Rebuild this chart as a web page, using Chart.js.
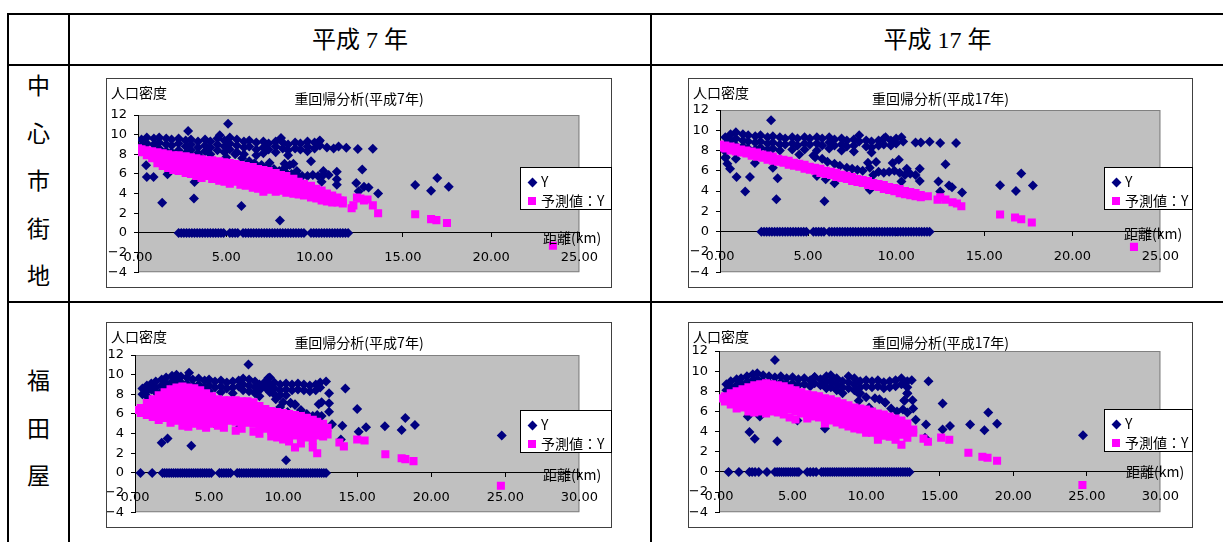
<!DOCTYPE html>
<html lang="ja">
<head>
<meta charset="utf-8">
<title>重回帰分析</title>
<script src="https://cdn.jsdelivr.net/npm/chart.js@4.4.1/dist/chart.umd.min.js"></script>
<style>
    html, body { margin: 0; padding: 0; background: #fff; }
    #page { position: relative; width: 1223px; height: 542px; overflow: hidden; font-family: "Noto Sans CJK JP", sans-serif; color: #000; }
    .hl, .vl { position: absolute; background: #000; }
    .hl { height: 2px; }
    .vl { width: 2px; }
    .head { position: absolute; top: 22px; height: 36px; line-height: 36px; text-align: center; font-family: "Liberation Serif", "Noto Sans CJK JP", serif; font-size: 24px; }
    .side { position: absolute; left: 9px; width: 59px; text-align: center; font-size: 23px; line-height: 47.5px; }
    .box { position: absolute; border: 1px solid #404040; background: #fff; }
    .box canvas { position: absolute; left: 0; top: 0; }
    .lbl { position: absolute; white-space: nowrap; font-size: 14px; line-height: 16px; }
    .ttl { left: 0; right: 0; text-align: center; }
    .legend { position: absolute; border: 1px solid #000; background: #fff; font-size: 14px; line-height: 16px; box-sizing: border-box; }
    .legend div { position: absolute; left: 7px; white-space: nowrap; }
    .mk { display: inline-block; vertical-align: middle; margin-right: 5px; position: relative; top: -1px; }
    .mk.dia { width: 7px; height: 7px; background: #000080; transform: rotate(45deg); margin-left: 1px; }
    .mk.sq { width: 8px; height: 8px; background: #ff00ff; }
</style>
</head>
<body>
<div id="page"></div>
<script>
// 見出し
const yearLabels = ['平成 7 年', '平成 17 年']
const areaLabels = ['中心市街地', '福田屋']
const chartTitles = ['重回帰分析(平成7年)', '重回帰分析(平成17年)']
const seriesNames = ['Y', '予測値：Y']
const yAxisName = '人口密度'
const xAxisName = '距離(km)'
const yTicks = [-4, -2, 0, 2, 4, 6, 8, 10, 12]
const xMaxChushin = 25
const xMaxFukudaya = 30

// ---------------- 中心市街地 平成7年
const chuY7 = [
    [0.2,9.5],[0.2,8.9],[0.2,8.3],[0.5,9.7],[0.5,9.1],[0.5,8.5],[0.9,9.6],[0.9,9.0],[0.9,8.4],
    [1.2,9.7],[1.2,9.2],[1.2,8.6],[1.2,8.0],[1.6,9.6],[1.6,9.0],[1.6,8.3],[1.9,9.5],[1.9,8.9],[1.9,8.2],
    [2.3,9.6],[2.3,9.1],[2.3,8.4],[2.3,7.9],[2.7,9.4],[2.7,8.8],[2.7,8.1],[3.0,9.5],[3.0,9.0],[3.0,8.4],[3.0,7.8],
    [3.4,9.3],[3.4,8.7],[3.4,8.1],[3.8,9.5],[3.8,8.9],[3.8,8.3],[4.1,9.3],[4.1,8.7],[4.1,8.0],
    [4.5,9.6],[4.5,9.0],[4.5,8.4],[4.9,9.4],[4.9,8.8],[4.9,8.2],[5.2,9.7],[5.2,9.1],[5.2,8.5],
    [5.6,9.5],[5.6,8.9],[5.6,8.2],[6.0,9.3],[6.0,8.7],[6.0,8.0],[6.3,9.4],[6.3,8.8],
    [6.7,9.2],[6.7,8.5],[6.7,7.9],[7.1,9.3],[7.1,8.7],[7.1,8.1],[7.4,9.1],[7.4,8.5],
    [7.8,9.3],[7.8,8.8],[7.8,8.2],[8.2,9.2],[8.2,8.6],[8.5,9.0],[8.5,8.4],[8.5,7.9],[8.9,9.2],[8.9,8.6],
    [9.2,9.1],[9.2,8.5],[9.6,9.3],[9.6,8.8],[9.6,8.3],[10.0,9.2],[10.0,8.6],[10.3,9.4],[10.3,8.9],[10.7,8.7],
    [5.5,8.0],[5.9,7.6],[6.3,7.3],[6.6,7.1],[7.0,6.9],[7.3,6.7],[7.7,6.5],[8.0,6.3],[8.3,6.6],[8.4,6.1],
    [8.6,6.9],[8.7,6.0],[9.0,5.9],[9.0,6.3],[9.3,5.8],[9.6,5.8],[9.9,5.9],[10.2,5.8],[10.5,5.9],[10.8,5.9],
    [3.6,7.6],[4.2,7.4],[5.0,7.7],
    [5.1,11.1],[2.84,10.36],[4.63,9.93],[8.1,9.67],[0.46,6.89],[0.5,5.7],[0.88,5.7],[1.67,5.96],[1.37,3.08],
    [3.2,5.17],[3.17,3.51],[5.86,2.75],[8.04,1.26],[11.08,8.6],[11.36,8.8],[11.8,8.67],[12.45,8.54],[13.3,8.57],
    [12.36,5.07],[12.7,6.46],[12.5,4.24],[12.8,4.7],[13.06,4.62],[13.6,4.0],[11.26,6.22],[11.26,4.9],[11.26,5.46],
    [10.5,6.3],[10.4,5.2],[9.8,7.3],[10.26,9.3],[8.3,7.05],[8.8,7.05],[7.45,7.15],[6.87,6.6],
    [15.7,4.87],[16.6,4.3],[16.95,5.6],[17.6,4.7]
]
const chuZero7 = [2.3,2.45,2.6,2.75,2.9,3.05,3.2,3.35,3.5,3.65,3.8,3.95,4.1,4.25,4.4,4.55,4.7,4.85,5.2,5.35,5.5,5.65,
    5.95,6.1,6.25,6.4,6.55,6.7,6.85,7.0,7.15,7.3,7.45,7.6,7.75,7.9,8.05,8.2,8.35,8.5,8.65,8.8,8.95,9.1,9.25,9.4,
    9.8,9.95,10.1,10.25,10.4,10.55,10.7,10.85,11.0,11.15,11.3,11.45,11.6,11.75,11.9]
const chuPred7 = [
    [0.0,8.6],[0.2,8.5],[0.2,8.2],[0.5,8.4],[0.5,7.9],[0.8,8.3],[0.8,7.6],[1.1,8.2],[1.1,7.6],[1.1,7.1],
    [1.4,8.1],[1.4,7.5],[1.4,6.8],[1.7,8.0],[1.7,7.3],[1.7,6.6],[2.0,7.9],[2.0,7.2],[2.0,6.4],
    [2.3,7.9],[2.3,7.1],[2.3,6.3],[2.7,7.8],[2.7,7.0],[2.7,6.1],[3.0,7.7],[3.0,6.9],[3.0,6.0],
    [3.3,7.6],[3.3,6.8],[3.3,5.8],[3.6,7.5],[3.6,6.7],[3.6,5.6],[3.9,7.4],[3.9,6.6],[3.9,5.8],
    [4.2,7.4],[4.2,6.5],[4.2,5.5],[4.6,7.3],[4.6,6.4],[4.6,5.3],[4.9,7.2],[4.9,6.2],[4.9,5.2],
    [5.2,7.1],[5.2,6.1],[5.2,5.0],[5.5,7.0],[5.5,6.0],[5.5,5.2],[5.8,6.9],[5.8,5.9],[5.8,4.9],
    [6.1,6.8],[6.1,5.8],[6.1,4.8],[6.5,6.7],[6.5,5.6],[6.5,4.6],[6.8,6.5],[6.8,5.5],[6.8,4.5],
    [7.1,6.4],[7.1,5.3],[7.1,4.2],[7.4,6.3],[7.4,5.3],[7.4,4.4],[7.8,6.1],[7.8,5.2],[7.8,4.2],
    [8.1,5.9],[8.1,5.0],[8.1,4.3],[8.4,5.8],[8.4,4.8],[8.4,4.1],[8.8,5.5],[8.8,4.7],[8.8,4.0],
    [9.1,5.2],[9.1,4.5],[9.1,3.9],[9.4,5.0],[9.4,4.4],[9.4,3.8],[9.8,4.8],[9.8,4.2],[9.8,3.6],
    [10.1,4.5],[10.1,4.0],[10.1,3.5],[10.4,4.3],[10.4,3.8],[10.4,3.3],[10.7,4.0],[10.7,3.6],[10.7,3.2],
    [11.0,3.8],[11.0,3.4],[11.0,3.1],[11.3,3.6],[11.3,3.1],[11.6,3.3],[11.6,3.0],
    [1.25,7.85],[1.55,7.15],[1.85,7.6],[1.85,6.9],[2.15,7.5],[2.15,6.8],[2.5,7.4],[2.5,6.6],[2.85,7.3],[2.85,6.5],
    [3.15,7.2],[3.15,6.4],[3.45,7.1],[3.45,6.2],[3.75,7.0],[3.75,6.1],[4.05,6.9],[4.05,6.0],[4.4,6.8],[4.4,5.9],
    [4.75,6.7],[4.75,5.7],[5.05,6.6],[5.05,5.6],[5.35,6.5],[5.35,5.5],[5.65,6.4],[5.65,5.4],[5.95,6.3],[5.95,5.3],
    [6.3,6.2],[6.3,5.1],[6.65,6.0],[6.65,5.0],[6.95,5.9],[6.95,4.8],[7.25,5.8],[7.25,4.8],[7.6,5.6],[7.6,4.7],
    [7.95,5.5],[7.95,4.6],[8.25,5.3],[8.25,4.5],[8.6,5.1],[8.6,4.4],[8.95,4.9],[8.95,4.2],[9.25,4.8],[9.25,4.1],
    [9.6,4.5],[9.95,4.3],[10.25,4.1],[10.55,3.9],[10.85,3.7],[11.15,3.5],[11.45,3.3],
    [12.1,2.5],[12.2,2.8],[12.4,3.6],[12.6,3.5],[12.8,3.3],[13.0,3.4],[13.3,2.8],[13.6,2.0],
    [15.7,1.9],[16.6,1.4],[16.9,1.3],[17.5,1.0],[23.5,-1.3]
]

// ---------------- 中心市街地 平成17年
const chuY17 = [
    [0.3,9.3],[0.3,8.6],[0.3,7.9],[0.3,7.3],[0.6,9.6],[0.6,9.0],[0.6,8.4],[0.9,9.8],[0.9,9.2],[0.9,8.5],[0.9,7.8],
    [1.3,9.6],[1.3,9.0],[1.3,8.4],[1.6,9.5],[1.6,8.9],[1.6,8.2],[2.0,9.4],[2.0,8.8],[2.0,8.1],
    [2.3,9.5],[2.3,8.9],[2.3,8.3],[2.7,9.3],[2.7,8.7],[2.7,8.1],[3.0,9.4],[3.0,8.8],[3.0,8.2],
    [3.4,9.3],[3.4,8.6],[3.4,8.0],[3.7,9.2],[3.7,8.6],[4.1,9.3],[4.1,8.7],[4.1,8.1],[4.4,9.2],[4.4,8.5],
    [4.8,9.3],[4.8,8.7],[4.8,8.1],[5.1,9.2],[5.1,8.6],[5.5,9.3],[5.5,8.7],[5.5,8.0],[5.8,9.2],[5.8,8.5],
    [6.2,9.3],[6.2,8.8],[6.2,8.2],[6.5,9.1],[6.5,8.5],[6.9,9.2],[6.9,8.6],[6.9,8.0],[7.2,9.0],[7.2,8.4],
    [7.6,9.1],[7.6,8.5],[7.6,7.9],[7.9,9.5],[7.9,8.9],[8.3,9.0],[8.3,8.4],[8.6,8.9],[8.6,8.3],[8.6,7.8],
    [9.0,9.0],[9.0,8.5],[9.3,9.2],[9.3,8.6],[9.7,9.0],[9.7,8.5],[10.0,9.2],[10.0,8.7],[10.4,8.9],
    [5.3,7.5],[5.8,7.2],[6.1,6.9],[6.5,6.7],[6.8,6.5],[7.2,6.3],[7.5,6.2],[7.8,6.1],[8.1,6.0],[8.4,6.8],
    [8.5,6.3],[8.7,5.6],[9.0,5.9],[9.3,5.8],[9.6,5.9],[9.9,6.0],[10.2,5.8],[10.5,5.6],[10.8,5.7],[11.1,5.6],
    [10.6,6.2],[4.5,7.6],
    [2.9,11.0],[0.33,7.35],[0.42,6.7],[0.57,6.2],[0.94,5.4],[0.9,7.2],[1.43,3.97],[1.7,5.4],[1.98,6.77],
    [3.0,6.3],[3.27,5.26],[3.2,3.2],[5.93,3.0],[6.0,5.16],[5.5,5.5],[6.5,4.77],[5.4,7.35],[8.5,4.13],
    [8.86,6.87],[9.8,6.77],[10.15,7.1],[10.3,4.94],[11.34,6.2],[11.34,5.0],[12.4,4.94],[12.5,3.97],
    [12.8,6.65],[13.0,4.55],[13.17,4.39],[12.5,8.74],[13.4,8.74],[13.74,3.87],[15.9,4.58],[16.8,4.0],
    [17.1,5.74],[17.76,4.55],[11.1,8.8],[11.4,8.8],[11.9,8.87],[10.3,9.3],[9.4,9.3]
]
const chuZero17 = [2.35,2.5,2.65,2.8,2.95,3.1,3.25,3.4,3.55,3.7,3.85,4.0,4.15,4.3,4.45,4.6,4.75,4.9,5.3,5.45,5.6,
    5.75,5.9,6.2,6.35,6.5,6.65,6.8,6.95,7.1,7.25,7.4,7.55,7.7,7.85,8.0,8.15,8.3,8.45,8.6,8.75,8.9,9.05,9.2,
    9.35,9.5,9.65,9.8,9.95,10.1,10.25,10.4,10.55,10.7,10.85,11.0,11.15,11.3,11.45,11.6,11.75,11.9]
const chuPred17 = [
    [0.0,8.6],[0.0,8.3],[0.3,8.5],[0.3,8.2],[0.6,8.4],[0.6,8.0],[0.9,8.3],[0.9,7.9],[1.2,8.1],[1.2,7.8],
    [1.5,8.0],[1.5,7.7],[1.8,7.9],[1.8,7.5],[2.1,7.8],[2.1,7.4],[2.4,7.6],[2.4,7.3],[2.7,7.5],[2.7,7.1],
    [3.0,7.4],[3.0,7.0],[3.3,7.2],[3.3,6.9],[3.6,7.1],[3.6,6.8],[3.9,7.0],[3.9,6.6],[4.2,6.8],[4.2,6.5],
    [4.5,6.7],[4.5,6.4],[4.8,6.6],[4.8,6.2],[5.1,6.4],[5.1,6.1],[5.4,6.3],[5.4,6.0],[5.7,6.2],[5.7,5.8],
    [6.0,6.0],[6.0,5.7],[6.3,5.9],[6.3,5.6],[6.6,5.8],[6.6,5.4],[6.9,5.6],[6.9,5.3],[7.2,5.5],[7.2,5.2],
    [7.5,5.4],[7.5,5.0],[7.8,5.2],[7.8,4.9],[8.1,5.1],[8.1,4.8],[8.4,5.0],[8.4,4.6],[8.7,4.8],[8.7,4.5],
    [9.0,4.7],[9.0,4.4],[9.3,4.6],[9.3,4.2],[9.6,4.4],[9.6,4.1],[9.9,4.3],[9.9,4.0],[10.2,4.2],[10.2,3.8],
    [10.5,4.0],[10.5,3.7],[10.8,3.9],[10.8,3.6],[11.1,3.8],[11.1,3.5],[11.4,3.6],[11.4,3.4],[11.8,3.5],
    [12.35,3.16],[12.5,3.4],[12.8,3.16],[13.2,2.9],[13.45,2.77],[13.7,2.5],
    [15.9,1.7],[16.75,1.39],[17.1,1.23],[17.7,0.9],[23.5,-1.5]
]

// ---------------- 福田屋 平成7年
const fukY7 = [
    [0.5,8.6],[0.5,8.0],[0.8,8.9],[0.8,8.3],[0.8,7.8],[1.1,9.1],[1.1,8.5],[1.4,9.3],[1.4,8.7],[1.4,8.2],
    [1.8,9.5],[1.8,8.9],[1.8,8.3],[2.1,9.7],[2.1,9.1],[2.1,8.5],[2.5,9.9],[2.5,9.3],[2.5,8.7],
    [2.8,10.0],[2.8,9.4],[2.8,8.8],[3.1,9.8],[3.1,9.2],[3.1,8.6],[3.5,9.7],[3.5,9.1],[3.9,9.5],[3.9,8.9],
    [4.3,9.6],[4.3,9.0],[4.3,8.4],[4.7,9.4],[4.7,8.8],[5.0,9.5],[5.0,8.9],[5.0,8.3],[5.4,9.3],[5.4,8.7],
    [5.8,9.4],[5.8,8.8],[5.8,8.2],[6.2,9.2],[6.2,8.6],[6.6,9.3],[6.6,8.7],[6.6,8.1],[7.0,9.4],[7.0,8.8],
    [7.3,9.6],[7.3,9.0],[7.3,8.4],[7.7,9.5],[7.7,8.9],[7.7,8.3],[8.1,9.3],[8.1,8.7],[8.1,8.1],
    [8.4,9.0],[8.4,8.4],[8.4,7.8],[8.8,9.3],[8.8,8.7],[9.1,9.7],[9.1,8.9],[9.1,8.2],[9.4,9.2],[9.4,8.6],[9.4,8.0],
    [9.8,9.0],[9.8,8.4],[9.8,7.9],[10.2,9.1],[10.2,8.5],[10.2,7.9],[10.6,9.0],[10.6,8.4],[11.0,9.1],[11.0,8.5],
    [11.4,9.0],[11.4,8.4],[11.8,8.9],[11.8,8.3],[12.2,9.0],[12.2,8.4],[12.5,9.2],[12.5,8.7],[12.9,9.3],
    [9.5,7.5],[10.0,7.2],[10.5,7.1],[10.8,6.9],[11.2,6.4],[11.6,6.0],[12.0,5.8],[12.3,5.9],[12.6,5.8],
    [9.8,6.7],[10.3,6.2],[12.4,7.0],[5.9,6.8],[6.2,6.3],
    [7.66,11.04],[3.65,10.2],[9.0,9.67],[9.0,9.1],[1.8,3.08],[2.2,3.5],[3.8,2.76],[10.2,1.3],[13.1,8.1],
    [13.1,7.08],[13.1,6.23],[12.6,7.2],[10.5,7.14],[10.8,6.98],[13.3,4.94],[14.0,4.8],[14.2,8.6],[15.0,6.5],
    [15.1,4.2],[15.6,4.64],[13.9,3.4],[16.87,4.74],[18.0,4.37],[18.25,5.6],[18.9,4.87],[24.76,3.8],
    [5.3,5.1],[7.1,4.7],[12.2,4.4]
]
const fukZero7 = [0.37,1.16,1.86,2.0,2.15,2.3,2.45,2.6,2.75,2.9,3.05,3.2,3.35,3.5,3.65,3.8,3.95,4.1,4.25,4.4,4.55,
    4.7,4.85,5.0,5.15,5.7,5.85,6.0,6.15,6.3,6.45,6.9,7.05,7.2,7.35,7.5,7.65,7.8,7.95,8.1,8.25,8.4,8.55,8.7,8.85,
    9.0,9.15,9.3,9.45,9.6,9.75,9.9,10.05,10.2,10.35,10.5,10.65,10.8,10.95,11.1,11.25,11.4,11.55,11.7,11.85,
    12.0,12.15,12.3,12.45,12.6,12.75,12.9]
const fukPred7 = [
    [0.1,6.4],[0.4,6.6],[0.4,6.1],[0.8,7.1],[0.8,6.5],[0.8,5.9],[1.2,7.5],[1.2,6.9],[1.2,6.2],[1.2,5.7],
    [1.6,7.9],[1.6,7.3],[1.6,6.6],[1.6,5.9],[1.6,5.4],[2.0,8.2],[2.0,7.6],[2.0,6.9],[2.0,6.3],[2.0,5.6],
    [2.4,8.5],[2.4,7.9],[2.4,7.2],[2.4,6.5],[2.4,5.8],[2.4,5.1],[2.8,8.7],[2.8,8.1],[2.8,7.4],[2.8,6.7],[2.8,6.0],[2.8,5.3],
    [3.2,8.8],[3.2,8.2],[3.2,7.5],[3.2,6.8],[3.2,6.1],[3.2,5.4],[3.2,4.8],[3.6,8.7],[3.6,8.1],[3.6,7.4],[3.6,6.7],[3.6,6.0],[3.6,5.2],[3.6,4.7],
    [4.0,8.6],[4.0,7.9],[4.0,7.2],[4.0,6.5],[4.0,5.8],[4.0,5.0],[4.4,8.4],[4.4,7.7],[4.4,7.0],[4.4,6.3],[4.4,5.6],[4.4,4.8],
    [4.8,8.1],[4.8,7.4],[4.8,6.7],[4.8,6.0],[4.8,5.3],[4.8,4.6],[5.2,7.8],[5.2,7.1],[5.2,6.4],[5.2,5.7],[5.2,5.0],
    [5.6,7.5],[5.6,6.8],[5.6,6.1],[5.6,5.4],[5.6,4.8],[6.0,7.4],[6.0,6.7],[6.0,6.0],[6.0,5.3],[6.0,4.6],
    [6.4,7.4],[6.4,6.7],[6.4,6.0],[6.4,5.3],[6.8,7.4],[6.8,6.7],[6.8,6.0],[6.8,5.2],[6.8,4.3],
    [7.2,7.3],[7.2,6.6],[7.2,5.9],[7.2,5.2],[7.2,4.5],[7.6,7.3],[7.6,6.6],[7.6,5.9],[7.6,5.1],
    [8.0,7.2],[8.0,6.5],[8.0,5.8],[8.0,5.0],[8.0,4.2],[8.4,6.8],[8.4,6.1],[8.4,5.4],[8.4,4.7],[8.4,4.0],
    [8.8,6.5],[8.8,5.9],[8.8,5.2],[8.8,4.5],[9.2,6.3],[9.2,5.7],[9.2,5.0],[9.2,4.3],[9.2,3.7],
    [9.6,6.2],[9.6,5.6],[9.6,4.9],[9.6,4.2],[9.6,3.6],[10.0,6.1],[10.0,5.4],[10.0,4.7],[10.0,4.0],[10.0,3.4],
    [10.4,6.0],[10.4,5.3],[10.4,4.6],[10.4,3.9],[10.4,3.2],[10.8,5.9],[10.8,5.2],[10.8,4.5],[10.8,3.8],[10.8,2.6],
    [11.2,5.8],[11.2,5.1],[11.2,4.4],[11.2,3.7],[11.2,3.0],[11.6,5.6],[11.6,4.9],[11.6,4.2],[11.6,3.6],
    [12.0,5.4],[12.0,4.7],[12.0,4.0],[12.0,3.3],[12.0,2.6],[12.3,5.2],[12.3,4.5],[12.3,3.8],[12.3,2.0],
    [12.7,5.0],[12.7,4.3],[12.7,3.7],[13.0,4.6],[13.0,3.9],
    [13.8,3.1],[14.1,2.7],[15.0,3.4],[15.5,3.3],[16.9,1.9],[18.0,1.5],[18.25,1.4],[18.8,1.2],[24.7,-1.3]
]

// ---------------- 福田屋 平成17年
const fukY17 = [
    [0.5,8.7],[0.5,8.1],[0.8,9.0],[0.8,8.4],[1.2,9.2],[1.2,8.6],[1.2,8.0],[1.5,9.3],[1.5,8.7],
    [1.9,9.5],[1.9,8.9],[1.9,8.3],[2.3,9.7],[2.3,9.1],[2.3,8.5],[2.6,9.8],[2.6,9.2],[2.6,8.6],
    [3.0,9.6],[3.0,9.0],[3.4,9.5],[3.4,8.9],[3.8,9.4],[3.8,8.8],[4.2,9.5],[4.2,8.9],[4.2,8.3],
    [4.6,9.3],[4.6,8.7],[5.0,9.4],[5.0,8.8],[5.4,9.2],[5.4,8.6],[5.8,9.3],[5.8,8.7],[6.2,9.1],[6.2,8.5],
    [6.5,9.4],[6.5,8.8],[6.9,9.2],[6.9,8.6],[7.3,9.5],[7.3,8.9],[7.3,8.3],[7.6,9.6],[7.6,9.0],[7.6,8.4],
    [8.0,9.3],[8.0,8.7],[8.0,8.1],[8.4,9.0],[8.4,8.4],[8.4,7.8],[8.8,9.5],[8.8,8.9],[8.8,8.3],
    [9.2,9.3],[9.2,8.7],[9.2,8.1],[9.6,9.0],[9.6,8.4],[9.6,7.8],[10.0,9.1],[10.0,8.5],[10.4,9.0],[10.4,8.4],
    [10.8,9.1],[10.8,8.5],[11.2,8.9],[11.2,8.3],[11.6,9.0],[11.6,8.4],[12.0,9.1],[12.0,8.5],
    [12.4,9.3],[12.4,8.7],[12.8,9.0],[12.8,8.4],[13.1,9.1],
    [9.5,7.8],[10.0,7.4],[10.6,7.3],[10.9,7.2],[11.3,6.9],[11.7,6.3],[12.1,6.0],[12.5,6.2],[12.8,5.9],
    [10.2,6.4],[12.6,7.1],[12.8,7.8],[6.4,6.4],[5.5,6.5],
    [3.8,11.1],[1.96,5.5],[2.07,3.97],[2.43,3.3],[2.78,5.5],[3.96,3.05],[5.33,5.1],[7.2,4.3],[6.5,9.43],
    [14.24,9.0],[14.07,4.7],[15.2,6.8],[15.2,4.2],[15.7,4.55],[14.0,3.4],[13.37,5.17],[13.2,6.3],[13.15,7.12],
    [17.07,4.7],[18.04,4.13],[18.3,5.9],[18.9,4.78],[24.74,3.64],[9.35,7.97],[9.5,7.06],[9.7,6.08],
    [11.3,6.9],[12.6,7.06],[12.8,7.77]
]
const fukZero17 = [0.65,1.35,2.07,2.25,2.45,2.7,3.26,3.8,3.95,4.1,4.25,4.4,4.55,4.7,4.85,5.0,5.15,5.3,5.43,
    6.0,6.2,6.4,6.6,6.96,7.1,7.25,7.4,7.55,7.7,7.85,8.0,8.15,8.3,8.45,8.6,8.75,8.9,9.05,9.2,9.35,9.5,9.65,
    9.8,9.95,10.1,10.25,10.4,10.55,10.7,10.85,11.0,11.15,11.3,11.45,11.6,11.75,11.9,12.05,12.2,12.35,12.5,
    12.65,12.8,12.95]
const fukPred17 = [
    [0.1,7.3],[0.4,7.5],[0.4,7.0],[0.8,7.8],[0.8,7.2],[0.8,6.7],[1.2,8.0],[1.2,7.4],[1.2,6.8],[1.2,6.3],
    [1.6,8.2],[1.6,7.6],[1.6,7.0],[1.6,6.4],[2.0,8.4],[2.0,7.8],[2.0,7.1],[2.0,6.4],[2.0,6.0],
    [2.4,8.6],[2.4,8.0],[2.4,7.3],[2.4,6.6],[2.4,5.9],[2.8,8.7],[2.8,8.1],[2.8,7.4],[2.8,6.7],[2.8,6.0],
    [3.2,8.8],[3.2,8.2],[3.2,7.5],[3.2,6.8],[3.2,6.1],[3.2,5.8],[3.6,8.7],[3.6,8.1],[3.6,7.4],[3.6,6.7],[3.6,6.0],
    [4.0,8.6],[4.0,8.0],[4.0,7.3],[4.0,6.6],[4.0,5.9],[4.4,8.5],[4.4,7.8],[4.4,7.1],[4.4,6.4],[4.4,5.7],
    [4.8,8.3],[4.8,7.6],[4.8,6.9],[4.8,6.2],[4.8,5.4],[5.2,8.1],[5.2,7.4],[5.2,6.7],[5.2,6.0],[5.2,5.2],
    [5.6,7.9],[5.6,7.2],[5.6,6.5],[5.6,5.8],[6.0,7.7],[6.0,7.0],[6.0,6.3],[6.0,5.6],[6.0,5.3],
    [6.4,7.6],[6.4,6.9],[6.4,6.2],[6.4,5.5],[6.8,7.5],[6.8,6.8],[6.8,6.1],[6.8,5.4],
    [7.2,7.3],[7.2,6.6],[7.2,5.9],[7.2,5.2],[7.2,4.8],[7.6,7.2],[7.6,6.5],[7.6,5.8],[7.6,5.1],
    [8.0,7.0],[8.0,6.3],[8.0,5.6],[8.0,4.9],[8.4,6.8],[8.4,6.1],[8.4,5.4],[8.4,4.7],
    [8.8,6.6],[8.8,5.9],[8.8,5.2],[8.8,4.5],[9.2,6.4],[9.2,5.7],[9.2,5.0],[9.2,4.3],
    [9.6,6.3],[9.6,5.6],[9.6,4.9],[9.6,4.2],[10.0,6.2],[10.0,5.5],[10.0,4.8],[10.0,4.1],[10.0,3.9],
    [10.4,6.0],[10.4,5.3],[10.4,4.6],[10.4,3.9],[10.8,5.8],[10.8,5.1],[10.8,4.4],[10.8,3.7],[10.8,3.2],
    [11.2,5.7],[11.2,5.0],[11.2,4.3],[11.2,3.6],[11.6,5.5],[11.6,4.8],[11.6,4.1],[11.6,3.5],
    [12.0,5.3],[12.0,4.6],[12.0,3.9],[12.0,3.2],[12.4,5.1],[12.4,4.4],[12.4,3.7],[12.4,2.7],
    [12.8,4.8],[12.8,4.1],[12.8,3.4],[13.2,4.2],[13.2,3.9],
    [13.9,3.3],[14.2,3.0],[15.1,3.4],[15.65,3.2],[16.95,1.9],[17.9,1.5],[18.25,1.4],[18.9,1.1],[24.7,-1.3]
]

// ---------------- 配置 (ページ座標)
const charts = [
    { box: [106, 78, 506, 210], plot: [138, 115, 593, 278], xMax: xMaxChushin, title: chartTitles[0],
      y: chuY7, zero: chuZero7, pred: chuPred7, legend: [413, 88], xlab: [436, 150] },
    { box: [688, 78, 505, 210], plot: [720, 110, 1177, 278], xMax: xMaxChushin, title: chartTitles[1],
      y: chuY17, zero: chuZero17, pred: chuPred17, legend: [415, 88], xlab: [435, 146] },
    { box: [106, 322, 506, 206], plot: [135, 355, 593, 518], xMax: xMaxFukudaya, title: chartTitles[0],
      y: fukY7, zero: fukZero7, pred: fukPred7, legend: [413, 87], xlab: [436, 143] },
    { box: [688, 322, 505, 206], plot: [719, 351, 1177, 517], xMax: xMaxFukudaya, title: chartTitles[1],
      y: fukY17, zero: fukZero17, pred: fukPred17, legend: [415, 86], xlab: [437, 140] }
]

const page = document.querySelector('#page')

const addDiv = (cls, css, html, parent = page) => {
    const d = document.createElement('div')
    d.className = cls
    d.style.cssText = css
    if (html) d.innerHTML = html
    parent.appendChild(d)
    return d
}

// 表の罫線
addDiv('hl', 'left:7px;top:13px;width:1216px')
addDiv('hl', 'left:7px;top:64px;width:1216px')
addDiv('hl', 'left:7px;top:301px;width:1216px')
addDiv('vl', 'left:7px;top:13px;height:529px')
addDiv('vl', 'left:68px;top:13px;height:529px')
addDiv('vl', 'left:650px;top:13px;height:529px')

// 表の見出し
addDiv('head', 'left:70px;width:580px', yearLabels[0])
addDiv('head', 'left:652px;width:571px', yearLabels[1])
addDiv('side', 'top:61px', areaLabels[0].split('').join('<br>'))
addDiv('side', 'top:356px', areaLabels[1].split('').join('<br>'))

// 灰色のプロットエリア
const plotBg = {
    id: 'plotBg',
    beforeDraw(chart) {
        const a = chart.chartArea
        const ctx = chart.ctx
        ctx.save()
        ctx.fillStyle = '#c0c0c0'
        ctx.fillRect(a.left, a.top, a.width, a.height)
        ctx.strokeStyle = '#808080'
        ctx.lineWidth = 1
        ctx.strokeRect(a.left + 0.5, a.top + 0.5, a.width - 1, a.height - 1)
        ctx.restore()
    }
}

const tickFont = { family: '"DejaVu Sans", "Noto Sans CJK JP", sans-serif', size: 13 }

charts.forEach(c => {
    const [bx, by, bw, bh] = c.box
    const [px0, py0, px1, py1] = c.plot
    const box = addDiv('box', `left:${bx}px;top:${by}px;width:${bw - 2}px;height:${bh - 2}px`)

    const cw = bw - 2
    const ch = bh - 2
    const left = px0 - bx - 1
    const top = py0 - by - 1
    const right = cw - (px1 - bx - 1)
    const bottom = ch - (py1 - by - 1)

    const canvas = document.createElement('canvas')
    canvas.width = cw
    canvas.height = ch
    canvas.style.width = cw + 'px'
    canvas.style.height = ch + 'px'
    box.appendChild(canvas)

    // 文字ラベル
    addDiv('lbl', 'left:4px;top:5px', yAxisName, box)
    addDiv('lbl ttl', 'top:11px', c.title, box)
    addDiv('lbl', `left:${c.xlab[0]}px;top:${c.xlab[1]}px`, xAxisName, box)
    const lg = addDiv('legend', `left:${c.legend[0]}px;top:${c.legend[1]}px;width:${cw - c.legend[0] + 1}px;height:43px`, '', box)
    addDiv('', 'top:5px', `<span class="mk dia"></span>${seriesNames[0]}`, lg)
    addDiv('', 'top:24px', `<span class="mk sq"></span>${seriesNames[1]}`, lg)

    const yData = c.y.map(([x, y]) => ({ x, y })).concat(c.zero.map(x => ({ x, y: 0 })))
    const predData = c.pred.map(([x, y]) => ({ x, y }))

    new Chart(canvas.getContext('2d'), {
        type: 'scatter',
        data: {
            datasets: [{
                label: seriesNames[0],
                data: yData,
                pointStyle: 'rectRot',
                pointRadius: 5,
                backgroundColor: '#000080',
                borderWidth: 0,
                order: 2
            }, {
                label: seriesNames[1],
                data: predData,
                pointStyle: 'rect',
                pointRadius: 5.7,
                backgroundColor: '#ff00ff',
                borderWidth: 0,
                order: 1
            }]
        },
        options: {
            responsive: false,
            animation: false,
            events: [],
            layout: { padding: { left: 0, top, right, bottom } },
            plugins: { legend: { display: false }, tooltip: { enabled: false }, title: { display: false } },
            scales: {
                x: {
                    type: 'linear',
                    min: 0,
                    max: c.xMax,
                    position: { y: 0 },
                    ticks: { stepSize: 5, autoSkip: false, maxRotation: 0, color: '#000', font: tickFont,
                        padding: 13, callback: v => v.toFixed(2) },
                    grid: { drawOnChartArea: false, drawTicks: true, tickLength: 4, color: '#000' },
                    border: { color: '#000', width: 1 }
                },
                y: {
                    type: 'linear',
                    min: yTicks[0],
                    max: yTicks[yTicks.length - 1],
                    afterBuildTicks: s => { s.ticks = yTicks.map(v => ({ value: v })) },
                    afterFit: s => { s.width = left },
                    ticks: { color: '#000', font: tickFont, padding: 7, callback: v => String(v).replace('-', '−') },
                    grid: { drawOnChartArea: false, drawTicks: true, tickLength: 4, color: '#000' },
                    border: { color: '#000', width: 1 }
                }
            }
        },
        plugins: [plotBg]
    })
})
</script>
</body>
</html>
